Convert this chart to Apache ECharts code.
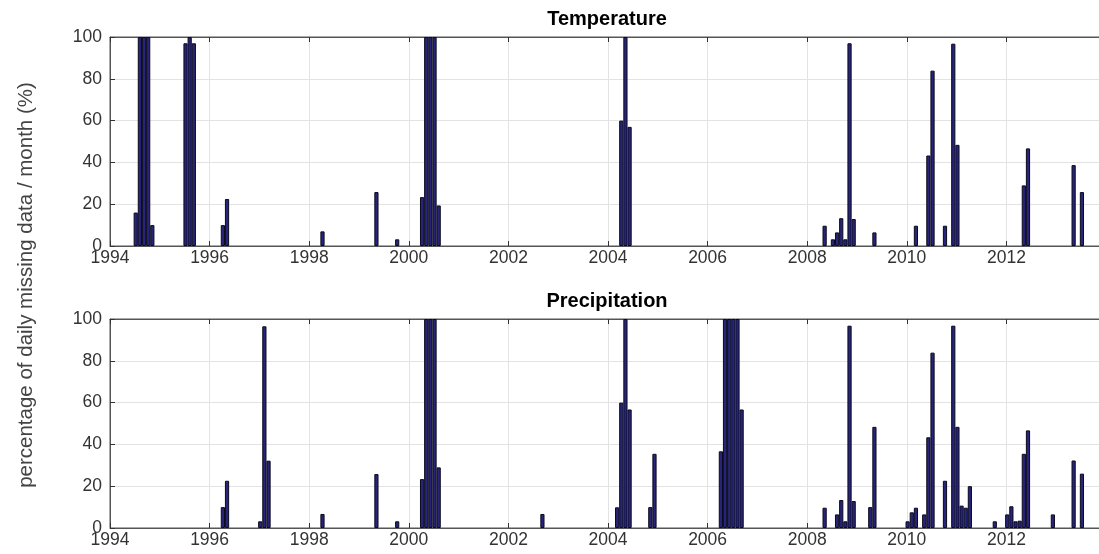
<!DOCTYPE html>
<html>
<head>
<meta charset="utf-8">
<script src="https://cdn.jsdelivr.net/npm/echarts@6/dist/echarts.min.js"></script>
<style>
html,body{margin:0;padding:0;background:#fff;}
#main{width:1099px;height:554px;}
</style>
</head>
<body>
<div id="main"></div>
<script>
// months with missing data (YYYY-MM) and percentage missing
var tempMonths = ['1994-07','1994-08','1994-09','1994-10','1994-11',
    '1995-07','1995-08','1995-09','1996-04','1996-05','1998-04','1999-05','1999-10',
    '2000-04','2000-05','2000-06','2000-07','2000-08','2004-04','2004-05','2004-06',
    '2008-05','2008-07','2008-08','2008-09','2008-10','2008-11','2008-12','2009-05',
    '2010-03','2010-06','2010-07','2010-10','2010-12','2011-01','2012-05','2012-06',
    '2013-05','2013-07'];
var tempValues = [16,100,100,100,10,
    97,100,97,10,22.5,7,25.8,3.2,
    23.4,100,100,100,19.4,60,100,57,
    9.7,3.2,6.5,13.3,3.2,97,12.9,6.5,
    9.7,43.3,83.9,9.7,96.8,48.4,29,46.7,
    38.7,25.8];

var precMonths = ['1996-04','1996-05','1997-01','1997-02','1997-03','1998-04','1999-05','1999-10',
    '2000-04','2000-05','2000-06','2000-07','2000-08','2002-09',
    '2004-03','2004-04','2004-05','2004-06','2004-11','2004-12',
    '2006-04','2006-05','2006-06','2006-07','2006-08','2006-09',
    '2008-05','2008-08','2008-09','2008-10','2008-11','2008-12','2009-04','2009-05',
    '2010-01','2010-02','2010-03','2010-05','2010-06','2010-07','2010-10','2010-12',
    '2011-01','2011-02','2011-03','2011-04','2011-10',
    '2012-01','2012-02','2012-03','2012-04','2012-05','2012-06','2012-12',
    '2013-05','2013-07'];
var precValues = [10,22.6,3.2,96.5,32.2,6.7,25.8,3.2,
    23.4,100,100,100,29,6.7,
    9.9,60,100,56.7,10,35.5,
    36.7,100,100,100,100,56.7,
    9.7,6.5,13.4,3.2,96.8,12.9,10,48.4,
    3.2,7.5,9.7,6.5,43.4,83.9,22.6,96.8,
    48.4,10.7,9.7,20,3.2,
    6.5,10.4,3.2,3.5,35.5,46.7,6.5,
    32.3,26];

var yearTicks = [1994, 2014, 2];   // min, max, step
var pctTicks = [0, 100, 20];

(function(){
    var myChart = echarts.init(document.getElementById('main'));

    function toPoints(months, values) {
        return months.map(function (m, i) {
            var p = m.split('-');
            return [+p[0] + (+p[1] - 0.8) / 12, values[i]];
        });
    }

    var fontFam = '"Liberation Sans", Arial, Helvetica, sans-serif';
    var boxColor = '#555';
    var gridTops = [37, 319];

    function xAxisFor(idx, pos) {
        return {
            type: 'value',
            gridIndex: idx,
            position: pos,
            min: yearTicks[0],
            max: yearTicks[1],
            interval: yearTicks[2],
            axisLine: { show: true, onZero: false, lineStyle: { color: boxColor, width: 1 } },
            axisTick: { show: true, inside: true, length: 5, lineStyle: { color: '#333' } },
            axisLabel: {
                show: pos === 'bottom',
                color: '#333',
                fontSize: 17.5,
                fontFamily: fontFam,
                margin: 3,
                formatter: function (v) { return v >= 2014 ? '' : String(v); }
            },
            splitLine: { show: pos === 'bottom', lineStyle: { color: '#e3e3e3' } }
        };
    }

    function yAxisFor(idx) {
        return {
            type: 'value',
            gridIndex: idx,
            min: pctTicks[0],
            max: pctTicks[1],
            interval: pctTicks[2],
            axisLine: { show: true, lineStyle: { color: boxColor, width: 1 } },
            axisTick: { show: true, inside: true, length: 5, lineStyle: { color: '#333' } },
            axisLabel: { color: '#333', fontSize: 17.5, fontFamily: fontFam, margin: 8 },
            splitLine: { show: true, lineStyle: { color: '#e3e3e3' } }
        };
    }

    function barSeries(idx, months, values, name) {
        return {
            name: name,
            type: 'bar',
            xAxisIndex: idx * 2,
            yAxisIndex: idx,
            barWidth: 4.2,
            data: toPoints(months, values),
            itemStyle: { color: '#27247a', borderColor: '#0a0a1a', borderWidth: 1 }
        };
    }

    var option = {
        animation: false,
        backgroundColor: '#fff',
        grid: [
            { left: 110, top: gridTops[0], width: 996, height: 209, show: true, borderColor: boxColor, borderWidth: 1, outerBoundsMode: 'none' },
            { left: 110, top: gridTops[1], width: 996, height: 209, show: true, borderColor: boxColor, borderWidth: 1, outerBoundsMode: 'none' }
        ],
        xAxis: [xAxisFor(0, 'bottom'), xAxisFor(0, 'top'), xAxisFor(1, 'bottom'), xAxisFor(1, 'top')],
        yAxis: [yAxisFor(0), yAxisFor(1)],
        graphic: [
            { type: 'text', x: 607, y: 19, style: { text: 'Temperature', font: 'bold 20px ' + fontFam, fill: '#000', align: 'center', verticalAlign: 'middle' } },
            { type: 'text', x: 607, y: 301, style: { text: 'Precipitation', font: 'bold 20px ' + fontFam, fill: '#000', align: 'center', verticalAlign: 'middle' } },
            {
                type: 'text', x: 26, y: 285, rotation: Math.PI / 2,
                style: {
                    text: 'percentage of daily missing data / month (%)',
                    font: '20.5px ' + fontFam, fill: '#444',
                    align: 'center', verticalAlign: 'middle'
                }
            }
        ],
        series: [
            barSeries(0, tempMonths, tempValues, 'Temperature'),
            barSeries(1, precMonths, precValues, 'Precipitation')
        ]
    };
    myChart.setOption(option);
    window.addEventListener('resize', function(){
        myChart.resize();
    });
})();
</script>
</body>
</html>
